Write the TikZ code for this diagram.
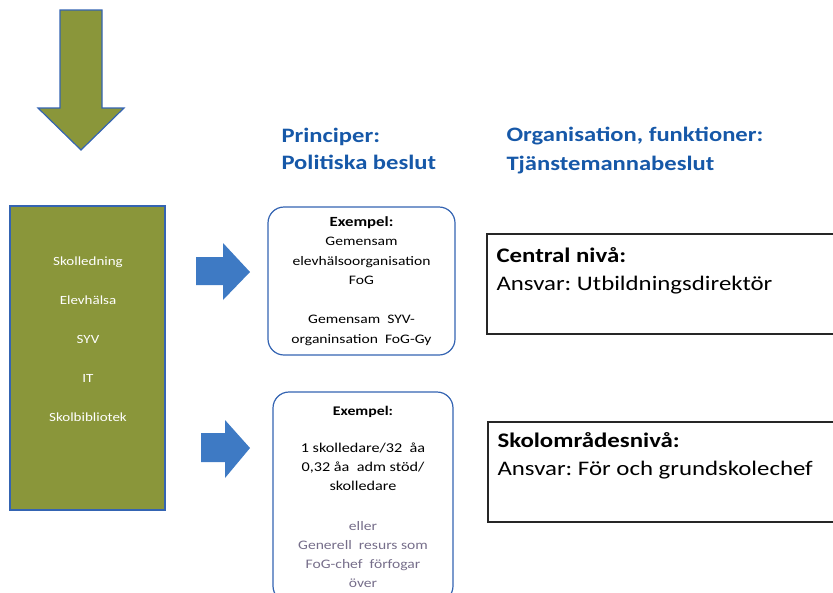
\documentclass[tikz,border=0pt]{standalone}
\usepackage{fontspec}
\setmainfont{Carlito}[FakeStretch=1.2]
\usepackage{tikz}
\usetikzlibrary{shapes.misc, shapes, arrows}

\definecolor{olive}{RGB}{138,150,58}
\definecolor{pilblue}{RGB}{62,122,196}
\definecolor{linjeblue}{RGB}{52,100,178}
\definecolor{rubrikblue}{RGB}{22,88,168}
\definecolor{gra}{RGB}{118,110,138}
\frenchspacing

\begin{document}
\begin{tikzpicture}[x=1pt,y=-1pt]
	\clip (0,0) rectangle (833,592);
	% stor pil
	\draw[linjeblue, line width=1.2pt, fill=olive]
		(60,10) -- (102,10) -- (102,108) -- (124,108) -- (81,150) -- (38,108) -- (60,108) -- cycle;
	\node[draw=linjeblue, line width=1.2pt, fill=olive, minimum width=155, minimum height=304, inner sep=0pt] (omr) at (87.5,358) {};
	\node[align=center, text=white, font=\fontsize{12.5}{39}\selectfont] (omrtext) at (88,339)
		{Skolledning\\Elevhälsa\\SYV\\IT\\Skolbibliotek};
	% blå pilar
	\draw[fill=pilblue, draw=none]
		(196,257) -- (223,257) -- (223,243) -- (250,272) -- (223,300) -- (223,285) -- (196,285) -- cycle;
	\draw[fill=pilblue, draw=none]
		(201,433) -- (225,433) -- (225,420) -- (250,448) -- (225,478) -- (225,462) -- (201,462) -- cycle;
	% rubriker
	\node[anchor=west, align=left, text=rubrikblue, font=\bfseries\fontsize{20.5}{27}\selectfont] (princip) at (278,149)
		{Principer:\\Politiska beslut};
	\node[anchor=west, align=left, text=rubrikblue, font=\bfseries\fontsize{20.5}{29}\selectfont] (organ) at (503,151)
		{Organisation, funktioner:\\Tjänstemannabeslut};
	% exempelrutor
	\node[draw=linjeblue, line width=1.2pt, rounded corners=16pt, minimum width=187, minimum height=148, align=center,
		font=\fontsize{13}{19.5}\selectfont] (ex1) at (361.5,281)
		{\textbf{\fontsize{14}{19.5}\selectfont Exempel:}\\Gemensam\\elevhälsoorganisation\\FoG\\[19.5pt]Gemensam\ \ SYV-\\organinsation\ \ FoG-Gy};
	\node[draw=linjeblue, line width=1.2pt, rounded corners=16pt, minimum width=180, minimum height=210, align=center,
		font=\fontsize{13}{19.2}\selectfont] (ex2) at (363,497)
		{\textbf{\fontsize{13.2}{19.5}\selectfont Exempel:}\\[18pt]{\fontsize{13.5}{20}\selectfont 1 skolledare/32\ \ åa}\\
		{\fontsize{13.5}{20}\selectfont 0,32 åa\ \ adm stöd/}\\{\fontsize{13.5}{20}\selectfont skolledare}\\[20pt]
		{\color{gra}eller}\\{\color{gra}Generell\ \ resurs som}\\{\color{gra}FoG-chef\ \ förfogar}\\{\color{gra}över}};
	% nivårutor
	\node[draw=black!85, line width=1.3pt, minimum width=370, minimum height=100, inner sep=0pt] (central) at (672,284) {};
	\node[anchor=north west, align=left, font=\fontsize{20.7}{28}\selectfont] (centraltext) at (493,244)
		{\textbf{Central nivå:}\\Ansvar: Utbildningsdirektör};
	\node[draw=black!85, line width=1.3pt, minimum width=370, minimum height=100, inner sep=0pt] (skol) at (673,472) {};
	\node[anchor=north west, align=left, font=\fontsize{20.7}{28}\selectfont] (skoltext) at (494,428.5)
		{\textbf{Skolområdesnivå:}\\Ansvar: För och grundskolechef};
\end{tikzpicture}
\end{document}
